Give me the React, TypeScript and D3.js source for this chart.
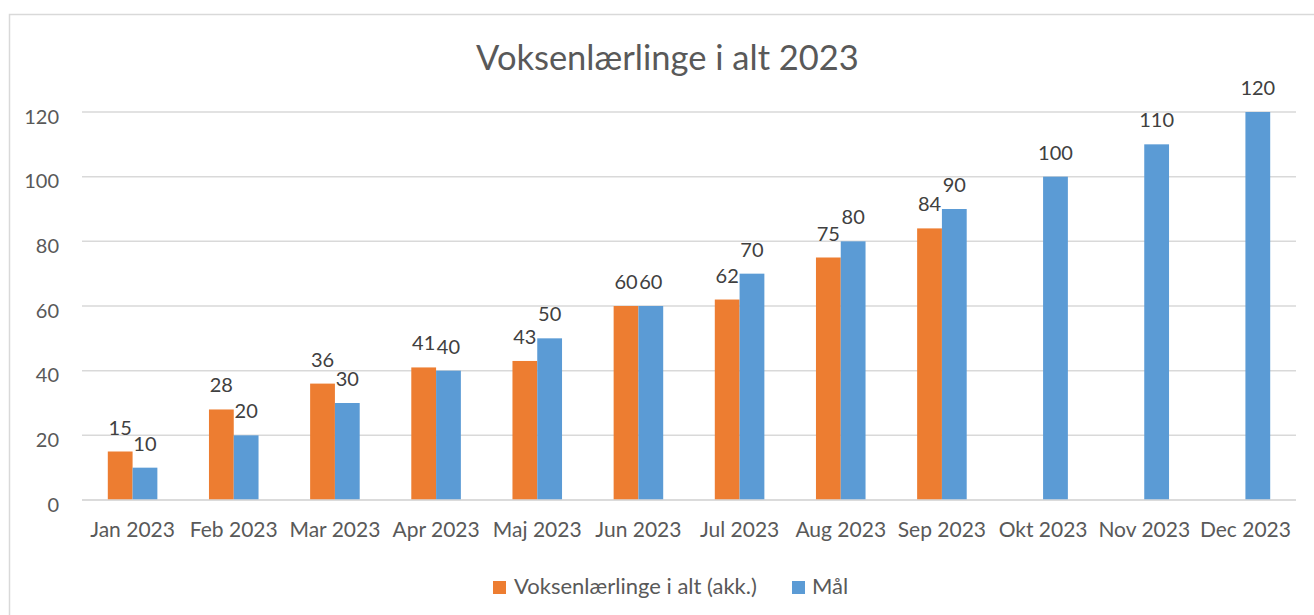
import React from "react";
import * as d3 from "d3";

const categories = ["Jan 2023","Feb 2023","Mar 2023","Apr 2023","Maj 2023","Jun 2023","Jul 2023","Aug 2023","Sep 2023","Okt 2023","Nov 2023","Dec 2023"];
const actual = [15,28,36,41,43,60,62,75,84];
const target = [10,20,30,40,50,60,70,80,90,100,110,120];
const yTicks = [0,20,40,60,80,100,120];
const seriesNames = ["Voksenlærlinge i alt (akk.)", "Mål"];
const colors = ["#ED7D31", "#5B9BD5"];

const W = 1314, H = 615;
const left = 82, right = 1296, top = 112, bottom = 500;
const font = "Lato, 'Open Sans', sans-serif";
const textColor = "#595959";

export default function App() {
  const x = d3.scaleBand<string>().domain(categories).range([left, right]);
  const y = d3.scaleLinear().domain([0, 120]).range([bottom, top]);
  const bw = x.bandwidth() * 0.245;
  const series = [actual, target];
  return (
    <svg width={W} height={H} style={{ position: "absolute", left: 0, top: 0, background: "#fff" }} fontFamily={font}>
      <rect x={9.5} y={14.5} width={1330} height={640} fill="#fff" stroke="#D9D9D9" strokeWidth={1.5} />
      <text x={667.5} y={70} textAnchor="middle" fontSize={34.5} fill={textColor}>Voksenlærlinge i alt 2023</text>
      {yTicks.map(t => (
        <g key={t}>
          <line x1={left} x2={right} y1={y(t)} y2={y(t)} stroke="#D9D9D9" strokeWidth={1.5} />
          <text x={59} y={y(t) + 11.5} textAnchor="end" fontSize={20} fill={textColor}>{t}</text>
        </g>
      ))}
      {series.map((vals, si) => vals.map((v, i) => {
        const cx = x(categories[i])! + x.bandwidth() / 2;
        const bx = si === 0 ? cx - bw : cx;
        return (
          <g key={si + "-" + i}>
            <rect x={bx} y={y(v)} width={bw} height={bottom - y(v)} fill={colors[si]} />
            <text x={bx + bw / 2} y={y(v) - 17} textAnchor="middle" fontSize={20} fill="#404040">{v}</text>
          </g>
        );
      }))}
      <line x1={left} x2={right} y1={bottom} y2={bottom} stroke="#D9D9D9" strokeWidth={1.5} />
      {categories.map(c => (
        <text key={c} x={x(c)! + x.bandwidth() / 2} y={537} textAnchor="middle" fontSize={21} fill={textColor}>{c}</text>
      ))}
      <rect x={493} y={581} width={13} height={13} fill={colors[0]} />
      <text x={514} y={594} fontSize={22} fill={textColor}>{seriesNames[0]}</text>
      <rect x={792} y={581} width={13} height={13} fill={colors[1]} />
      <text x={812} y={594} fontSize={22} fill={textColor}>{seriesNames[1]}</text>
    </svg>
  );
}
